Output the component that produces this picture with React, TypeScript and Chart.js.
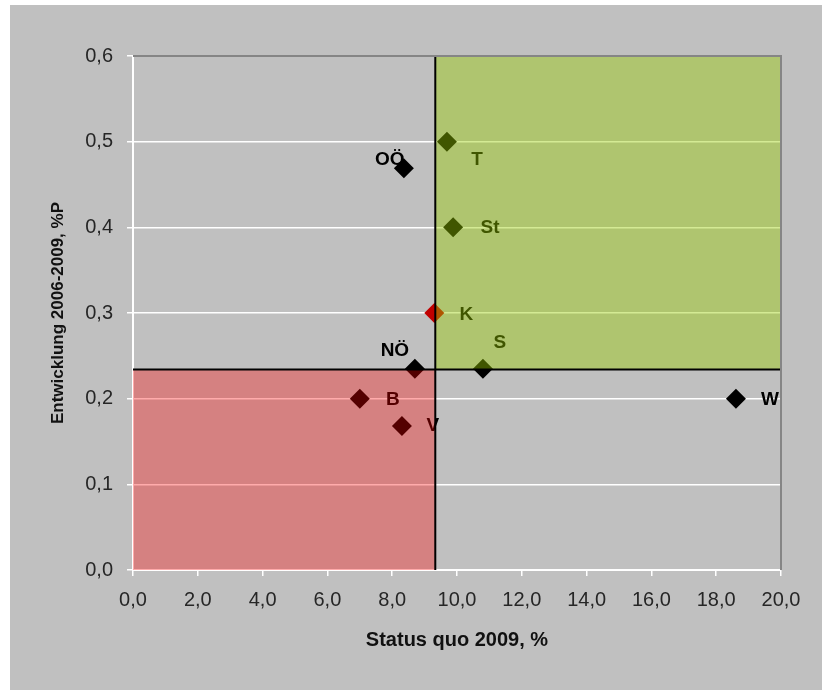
import React, { useEffect, useRef } from "react";
import { Chart, registerables } from "chart.js";

Chart.register(...registerables);

// ---- data ----
const regions = ["OÖ", "T", "St", "K", "NÖ", "S", "B", "V", "W"];
const statusQuo2009 = [8.36, 9.69, 9.88, 9.3, 8.7, 10.8, 7.0, 8.3, 18.61];
const entwicklung0609 = [0.469, 0.5, 0.4, 0.3, 0.235, 0.235, 0.2, 0.168, 0.2];
const highlighted = "K";
const avgStatus = 9.33;
const avgEntwicklung = 0.234;
const xTickValues = [0, 2, 4, 6, 8, 10, 12, 14, 16, 18, 20];
const yTickValues = [0, 0.1, 0.2, 0.3, 0.4, 0.5, 0.6];
const xTitle = "Status quo 2009, %";
const yTitle = "Entwicklung 2006-2009, %P";

// label placement relative to each marker (px)
const labelDx = [-14, 30, 37, 32, -20, 17, 33, 31, 34];
const labelDy = [-8, 18, 0, 2, -18, -26, 1, 0, 1];

const fmt = (v: number) => v.toFixed(1).replace(".", ",");

const quadrantPlugin = {
  id: "quadrants",
  afterDatasetsDraw(chart: any) {
    const { ctx, chartArea, scales } = chart;
    const x = scales.x;
    const y = scales.y;
    ctx.save();
    // labels
    ctx.font = "bold 19px 'Liberation Sans', Arial, sans-serif";
    ctx.textAlign = "center";
    ctx.textBaseline = "middle";
    ctx.fillStyle = "#000";
    regions.forEach((r, i) => {
      const px = x.getPixelForValue(statusQuo2009[i]);
      const py = y.getPixelForValue(entwicklung0609[i]);
      ctx.fillText(r, px + labelDx[i], py + labelDy[i]);
    });
    // overlays
    const ax = x.getPixelForValue(avgStatus);
    const ay = y.getPixelForValue(avgEntwicklung);
    ctx.fillStyle = "rgba(153,204,0,0.42)";
    ctx.fillRect(ax, chartArea.top, chartArea.right - ax, ay - chartArea.top);
    ctx.fillStyle = "rgba(255,0,0,0.33)";
    ctx.fillRect(chartArea.left, ay, ax - chartArea.left, chartArea.bottom - ay);
    // average lines
    ctx.strokeStyle = "#000";
    ctx.lineWidth = 2;
    ctx.beginPath();
    ctx.moveTo(ax, chartArea.top);
    ctx.lineTo(ax, chartArea.bottom);
    ctx.moveTo(chartArea.left, ay);
    ctx.lineTo(chartArea.right, ay);
    ctx.stroke();
    // top & right border
    ctx.strokeStyle = "#858585";
    ctx.lineWidth = 2;
    ctx.beginPath();
    ctx.moveTo(chartArea.left, chartArea.top);
    ctx.lineTo(chartArea.right, chartArea.top);
    ctx.lineTo(chartArea.right, chartArea.bottom);
    ctx.stroke();
    ctx.restore();
  },
};

export default function App() {
  const ref = useRef<HTMLCanvasElement | null>(null);
  useEffect(() => {
    if (!ref.current) return;
    const tickFont = { family: "'Liberation Sans', Arial", size: 20 };
    const chart = new Chart(ref.current, {
      type: "scatter",
      data: {
        datasets: [
          {
            data: regions.map((_, i) => ({ x: statusQuo2009[i], y: entwicklung0609[i] })),
            pointStyle: "rectRot",
            pointRadius: 10,
            pointHoverRadius: 10,
            pointBorderWidth: 0,
            pointBackgroundColor: regions.map((r) => (r === highlighted ? "#c00000" : "#000000")),
            pointBorderColor: regions.map((r) => (r === highlighted ? "#c00000" : "#000000")),
          },
        ],
      },
      options: {
        responsive: false,
        animation: false,
        devicePixelRatio: 1,
        layout: { padding: { left: 0, right: 41, top: 51, bottom: 0 } },
        plugins: { legend: { display: false }, tooltip: { enabled: false } },
        scales: {
          x: {
            type: "linear",
            min: 0,
            max: 20,
            afterFit: (s: any) => {
              s.height = 120;
            },
            afterBuildTicks: (s: any) => {
              s.ticks = xTickValues.map((v) => ({ value: v }));
            },
            ticks: {
              color: "#262626",
              font: tickFont,
              padding: 12,
              maxRotation: 0,
              callback: (v: any) => fmt(Number(v)),
            },
            grid: {
              drawOnChartArea: false,
              drawTicks: true,
              tickLength: 6,
              color: "#ffffff",
              lineWidth: 1.5,
            },
            border: { display: true, color: "#ffffff", width: 2 },
            title: {
              display: true,
              text: xTitle,
              color: "#111",
              font: { family: "'Liberation Sans', Arial", size: 20, weight: "bold" },
              padding: { top: 0, bottom: 38 },
            },
          },
          y: {
            type: "linear",
            min: 0,
            max: 0.6,
            afterFit: (s: any) => {
              s.width = 123;
            },
            afterBuildTicks: (s: any) => {
              s.ticks = yTickValues.map((v) => ({ value: v }));
            },
            ticks: {
              color: "#262626",
              font: tickFont,
              padding: 14,
              callback: (v: any) => fmt(Number(v)),
            },
            grid: {
              drawOnChartArea: true,
              drawTicks: true,
              tickLength: 6,
              color: "#ffffff",
              lineWidth: 1.5,
            },
            border: { display: true, color: "#ffffff", width: 2 },
            title: {
              display: true,
              text: yTitle,
              color: "#111",
              font: { family: "'Liberation Sans', Arial", size: 17, weight: "bold" },
              padding: { top: 38, bottom: 0 },
            },
          },
        },
      },
      plugins: [quadrantPlugin],
    });
    return () => chart.destroy();
  }, []);

  return (
    <div
      style={{
        position: "fixed",
        left: 10,
        top: 5,
        width: 812,
        height: 685,
        background: "#c0c0c0",
      }}
    >
      <canvas ref={ref} width={812} height={685} style={{ display: "block" }} />
    </div>
  );
}
